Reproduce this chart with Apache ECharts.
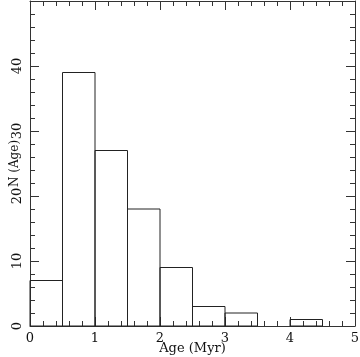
<!DOCTYPE html>
<html>
<head>
<meta charset="utf-8">
<script src="https://cdn.jsdelivr.net/npm/echarts@6/dist/echarts.min.js"></script>
<style>
  html, body { margin: 0; padding: 0; background: #fff; }
  #main { width: 360px; height: 357px; }
</style>
</head>
<body>
<div id="main"></div>
<script>
// histogram bins (Myr) and counts
var binStart = [0, 0.5, 1, 1.5, 2, 2.5, 3, 3.5, 4];
var binEnd   = [0.5, 1, 1.5, 2, 2.5, 3, 3.5, 4, 4.5];
var counts   = [7, 39, 27, 18, 9, 3, 2, 0, 1];

var xTicks = [0, 1, 2, 3, 4, 5];
var yTicks = [0, 10, 20, 30, 40, 50];

var data = [];
for (var i = 0; i < counts.length; i++) {
  data.push([binStart[i], binEnd[i], counts[i]]);
}

var axisCol = '#333';
var font = 'DejaVu Serif';

function axisBase(show) {
  return {
    axisLine: { show: true, onZero: false, lineStyle: { color: axisCol, width: 1 } },
    axisTick: { show: true, inside: true, length: 9, lineStyle: { color: axisCol } },
    minorTick: { show: true, splitNumber: 5, length: 5, lineStyle: { color: axisCol } },
    splitLine: { show: false },
    axisLabel: { show: show, color: '#111', fontFamily: font, fontSize: 13 }
  };
}

var chart = echarts.init(document.getElementById('main'));

var xb = axisBase(true);
var xt = axisBase(false);
var yl = axisBase(true);
var yr = axisBase(false);

var option = {
  animation: false,
  grid: { left: 30, right: 5, top: 1, bottom: 31, containLabel: false, outerBoundsMode: 'none' },
  xAxis: [
    Object.assign(xb, {
      type: 'value', position: 'bottom', min: xTicks[0], max: xTicks[xTicks.length - 1], interval: 1,
      name: 'Age (Myr)', nameLocation: 'middle', nameGap: 16, nameMoveOverlap: false,
      nameTextStyle: { fontFamily: font, fontSize: 13, color: '#111' }
    }),
    Object.assign(xt, {
      type: 'value', position: 'top', min: xTicks[0], max: xTicks[xTicks.length - 1], interval: 1
    })
  ],
  yAxis: [
    Object.assign(yl, {
      type: 'value', position: 'left', min: yTicks[0], max: yTicks[yTicks.length - 1], interval: 10,
      name: 'N (Age)', nameLocation: 'middle', nameGap: 9, nameRotate: 90, nameMoveOverlap: false,
      nameTextStyle: { fontFamily: font, fontSize: 12, color: '#111' }
    }),
    Object.assign(yr, {
      type: 'value', position: 'right', min: yTicks[0], max: yTicks[yTicks.length - 1], interval: 10
    })
  ],
  series: [{
    type: 'custom',
    xAxisIndex: 0,
    yAxisIndex: 0,
    data: data,
    encode: { x: [0, 1], y: 2 },
    renderItem: function (params, api) {
      var v = api.value(2);
      if (!v) return null;
      var p0 = api.coord([api.value(0), 0]);
      var p1 = api.coord([api.value(1), v]);
      return {
        type: 'rect',
        shape: { x: p0[0], y: p1[1], width: p1[0] - p0[0], height: p0[1] - p1[1] },
        style: { fill: 'none', stroke: '#222', lineWidth: 1 }
      };
    }
  }]
};

// rotate left labels like the reference, top label is cut off there
option.yAxis[0].axisLabel.rotate = 90;
option.yAxis[0].axisLabel.margin = 6;
option.yAxis[0].axisLabel.showMaxLabel = false;
option.xAxis[0].axisLabel.margin = 6;

chart.setOption(option);
</script>
</body>
</html>
